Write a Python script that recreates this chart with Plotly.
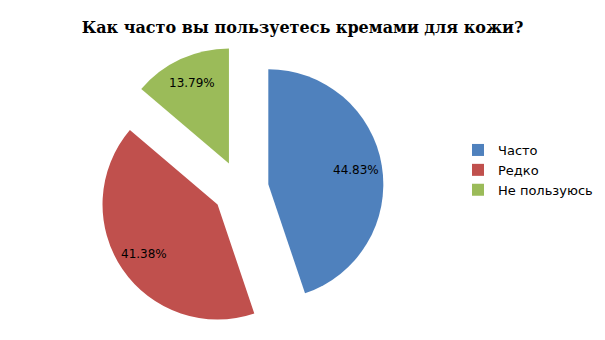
import math
import plotly.graph_objects as go

categories = ["Часто", "Редко", "Не пользуюсь"]
values = [13, 12, 4]
colors = ["#4F81BD", "#C0504D", "#9BBB59"]

W, H = 605, 340
cx, cy = 240.7, 188.8          # pie centre in pixels
half = 143                      # half size of the pie domain in pixels
pull = 0.243
r = half / (1 + pull)           # radius plotly uses
label_frac = 0.77               # label distance from slice apex, fraction of r

fig = go.Figure(go.Pie(
    labels=categories,
    values=values,
    sort=False,
    direction="clockwise",
    rotation=0,
    pull=[pull] * len(values),
    marker=dict(colors=colors, line=dict(width=0)),
    textinfo="none",
    textposition="none",
    domain=dict(x=[(cx - half) / W, (cx + half) / W],
                y=[1 - (cy + half) / H, 1 - (cy - half) / H]),
    hoverinfo="label+percent",
))

# percentage labels placed along each slice's bisector (Excel best-fit style)
total = sum(values)
acc = 0
for v in values:
    mid = (acc + v / 2) / total * 2 * math.pi   # clockwise from 12 o'clock
    acc += v
    dx, dy = math.sin(mid), -math.cos(mid)       # screen direction
    px = cx + (pull * r + label_frac * r) * dx
    py = cy + (pull * r + label_frac * r) * dy
    fig.add_annotation(
        x=px / W, y=1 - py / H, xref="paper", yref="paper",
        text=f"{v / total * 100:.2f}%", showarrow=False,
        font=dict(family="DejaVu Sans", size=12, color="black"),
        xanchor="center", yanchor="middle",
    )

fig.update_layout(
    width=W, height=H,
    margin=dict(l=0, r=0, t=0, b=0),
    paper_bgcolor="white",
    plot_bgcolor="white",
    title=dict(text="<b>Как часто вы пользуетесь кремами для кожи?</b>",
               font=dict(family="DejaVu Serif", size=16, color="black"),
               x=0.5, xanchor="center", y=1 - 27 / H, yanchor="middle"),
    legend=dict(x=458 / W, xanchor="left", y=0.5, yanchor="middle",
                font=dict(family="DejaVu Sans", size=13, color="black"),
                itemwidth=30, tracegroupgap=0),
    showlegend=True,
)

fig.write_html("out.html")
